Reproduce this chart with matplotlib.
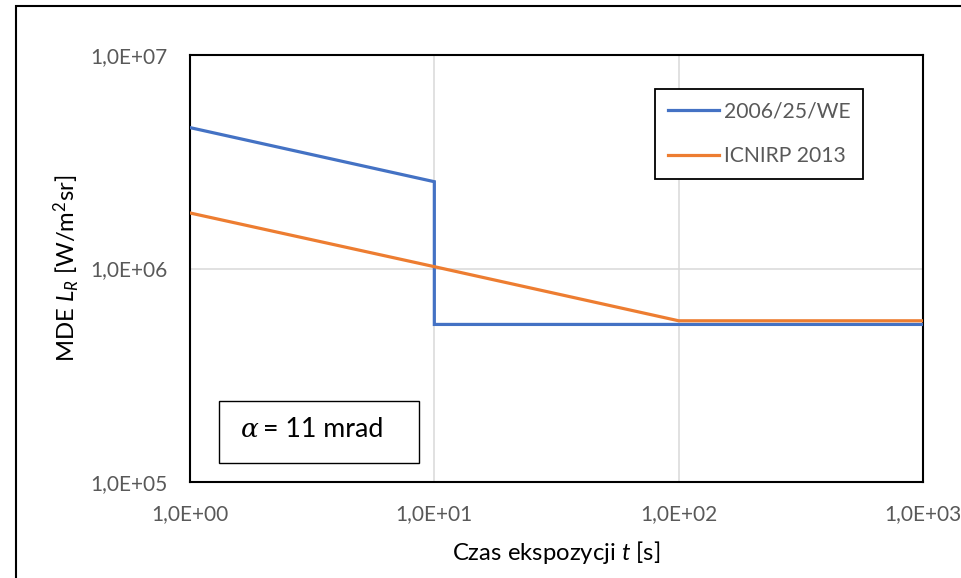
import matplotlib
matplotlib.use("Agg")
import matplotlib.pyplot as plt
from matplotlib.patches import Rectangle
from matplotlib.ticker import FixedLocator, FixedFormatter, NullLocator

plt.rcParams['font.family'] = ['Lato', 'DejaVu Sans']
plt.rcParams['mathtext.fontset'] = 'custom'
plt.rcParams['mathtext.rm'] = 'Lato'
plt.rcParams['mathtext.it'] = 'Lato:italic'
plt.rcParams['mathtext.bf'] = 'Lato:bold'

# Data
t_we = [1, 10, 10, 1000]
L_we = [4.57e6, 2.55e6, 5.47e5, 5.47e5]
t_icnirp = [1, 10, 100, 1000]
L_icnirp = [1.82e6, 1.02e6, 5.69e5, 5.69e5]
series_names = ["2006/25/WE", "ICNIRP 2013"]
x_ticks = [1, 10, 100, 1000]
x_ticklabels = ["1,0E+00", "1,0E+01", "1,0E+02", "1,0E+03"]
y_ticks = [1e5, 1e6, 1e7]
y_ticklabels = ["1,0E+05", "1,0E+06", "1,0E+07"]

W, H = 961, 578
fig = plt.figure(figsize=(W / 100, H / 100), dpi=100)
ax = fig.add_axes([190 / W, 1 - 482 / H, (923 - 190) / W, (482 - 55) / H])

ax.set_xscale('log')
ax.set_yscale('log')
ax.set_xlim(1, 1000)
ax.set_ylim(1e5, 1e7)

ax.plot(t_we, L_we, color='#4472C4', lw=2.3, label=series_names[0], solid_joinstyle='miter', zorder=3)
ax.plot(t_icnirp, L_icnirp, color='#ED7D31', lw=2.3, label=series_names[1], solid_joinstyle='miter', zorder=3)

ax.xaxis.set_major_locator(FixedLocator(x_ticks))
ax.xaxis.set_major_formatter(FixedFormatter(x_ticklabels))
ax.xaxis.set_minor_locator(NullLocator())
ax.yaxis.set_major_locator(FixedLocator(y_ticks))
ax.yaxis.set_major_formatter(FixedFormatter(y_ticklabels))
ax.yaxis.set_minor_locator(NullLocator())
ax.tick_params(axis='both', length=0, labelsize=15, labelcolor='#595959')
ax.tick_params(axis='x', pad=16)
ax.tick_params(axis='y', pad=16)

ax.grid(True, which='major', color='#D9D9D9', lw=1.1, zorder=0)
ax.set_axisbelow(True)
for s in ax.spines.values():
    s.set_color('black')
    s.set_linewidth(1.5)

ax.set_xlabel("Czas ekspozycji $t$ [s]", fontsize=17.2, color='black')
ax.xaxis.set_label_coords(0.5, -(553 - 482) / (482 - 55))
ax.xaxis.label.set_va('center')
ax.set_ylabel("MDE $L_R$ [W/m$^2$sr]", fontsize=17.2, color='black')
ax.yaxis.set_label_coords((67 - 190) / (923 - 190), 0.5)
ax.yaxis.label.set_va('center')

leg = ax.legend(loc='upper left', bbox_to_anchor=(655 / W, 1 - 89 / H),
                bbox_transform=fig.transFigure, fontsize=15.2, frameon=True,
                fancybox=False, framealpha=1, edgecolor='black',
                borderpad=0.6, handlelength=2.45, handletextpad=0.22,
                labelspacing=1.15, borderaxespad=0)
leg.get_frame().set_linewidth(1.3)
for txt in leg.get_texts():
    txt.set_color('#595959')

# alpha annotation box
fig.patches.append(Rectangle((219 / W, 1 - 463 / H), (419 - 219) / W, (463 - 401) / H,
                             transform=fig.transFigure, fill=True, facecolor='white',
                             edgecolor='black', lw=1.0, zorder=5))
fig.text(241 / W, 1 - 437 / H, "α", family='DejaVu Serif', style='italic',
         fontsize=19, va='baseline', ha='left', zorder=6)
fig.text(263 / W, 1 - 437 / H, "= 11 mrad", fontsize=19.3, va='baseline', ha='left', zorder=6)

# outer chart frame
fig.patches.append(Rectangle((16 / W, -0.5), 2, 1.5 - 6 / H, transform=fig.transFigure,
                             fill=False, edgecolor='black', lw=1.5))

fig.savefig("out.png", dpi=100)
